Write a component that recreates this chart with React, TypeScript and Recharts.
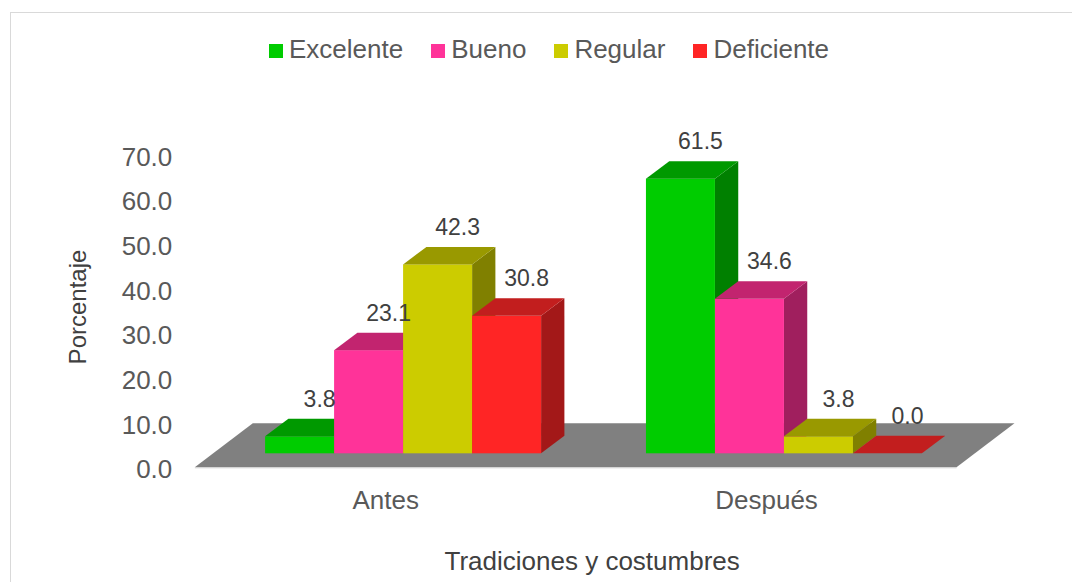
import React from 'react';
import { BarChart, Bar, XAxis, YAxis, Legend, LabelList, Customized, Label } from 'recharts';

// ---- data ----
const categories = ['Antes', 'Después'];
const seriesNames = ['Excelente', 'Bueno', 'Regular', 'Deficiente'];
const excelente = [3.8, 61.5];
const bueno = [23.1, 34.6];
const regular = [42.3, 3.8];
const deficiente = [30.8, 0.0];
const yTicks = [0, 10, 20, 30, 40, 50, 60, 70];
const xAxisTitle = 'Tradiciones y costumbres';
const yAxisTitle = 'Porcentaje';

const data = categories.map((c, i) => ({
  category: c,
  Excelente: excelente[i],
  Bueno: bueno[i],
  Regular: regular[i],
  Deficiente: deficiente[i],
}));

// ---- styles ----
const FONT = '"Liberation Sans", Arial, Helvetica, sans-serif';
const TEXT = '#595959';
const LABEL_TEXT = '#404040';
const COLORS: Record<string, { front: string; top: string; side: string }> = {
  Excelente: { front: '#00CC00', top: '#009900', side: '#008000' },
  Bueno: { front: '#FF3399', top: '#C2246F', side: '#A01F5E' },
  Regular: { front: '#CCCC00', top: '#999900', side: '#808000' },
  Deficiente: { front: '#FF2525', top: '#C21E1E', side: '#A31818' },
};

const W = 1072;
const H = 582;
const PLOT = { left: 213.3, right: 975, top: 140.7, bottom: 453.3 };
const DX = 23.3; // bar depth offset x
const DY = 17.5; // bar depth offset y

const Bar3D = (props: any) => {
  const { x, y, width, height, colors } = props;
  if (x == null || y == null || width == null) return null;
  const h = Math.max(0, height || 0);
  const top = `${x},${y} ${x + DX},${y - DY} ${x + width + DX},${y - DY} ${x + width},${y}`;
  const side = `${x + width},${y} ${x + width + DX},${y - DY} ${x + width + DX},${y + h - DY} ${x + width},${y + h}`;
  return (
    <g>
      {h > 0 && <polygon points={side} fill={colors.side} />}
      {h > 0 && <rect x={x} y={y} width={width} height={h} fill={colors.front} />}
      <polygon points={top} fill={colors.top} />
    </g>
  );
};

const Floor = () => {
  const fx = 18.5, fy = 14, bx = 58, by = 44;
  const pts = [
    [PLOT.left - fx, PLOT.bottom + fy],
    [PLOT.right - fx, PLOT.bottom + fy],
    [PLOT.right - fx + bx, PLOT.bottom + fy - by],
    [PLOT.left - fx + bx, PLOT.bottom + fy - by],
  ]
    .map((p) => p.join(','))
    .join(' ');
  return (
    <g>
      <polygon points={pts} fill="#808080" />
      <line
        x1={PLOT.left - fx}
        y1={PLOT.bottom + fy + 0.5}
        x2={PLOT.right - fx}
        y2={PLOT.bottom + fy + 0.5}
        stroke="#d0d0d0"
        strokeWidth={1}
      />
    </g>
  );
};

const YTick = (props: any) => {
  const { x, y, payload } = props;
  return (
    <text
      x={x - 41}
      y={y + 16}
      textAnchor="end"
      dominantBaseline="central"
      fontFamily={FONT}
      fontSize={26}
      fill={TEXT}
    >
      {Number(payload.value).toFixed(1)}
    </text>
  );
};

const XTick = (props: any) => {
  const { x, y, payload } = props;
  return (
    <text
      x={x - 18}
      y={y + 47}
      textAnchor="middle"
      dominantBaseline="central"
      fontFamily={FONT}
      fontSize={26}
      fill={TEXT}
    >
      {payload.value}
    </text>
  );
};

const ValueLabel = (props: any) => {
  const { x, y, width, value } = props;
  if (x == null || y == null) return null;
  return (
    <text
      x={x + width / 2 + 20}
      y={y - 37.5}
      textAnchor="middle"
      dominantBaseline="central"
      fontFamily={FONT}
      fontSize={23}
      fill={LABEL_TEXT}
    >
      {Number(value).toFixed(1)}
    </text>
  );
};

const LegendContent = () => (
  <div style={{ display: 'flex', paddingLeft: 269, fontFamily: FONT, alignItems: 'center' }}>
    {seriesNames.map((n) => (
      <div key={n} style={{ display: 'flex', alignItems: 'center', marginRight: 28 }}>
        <span
          style={{
            display: 'inline-block',
            width: 14,
            height: 14,
            background: COLORS[n].front,
            marginRight: 6,
            marginTop: 2,
          }}
        />
        <span style={{ fontSize: 26, color: TEXT, lineHeight: 'normal' }}>{n}</span>
      </div>
    ))}
  </div>
);

export default function App() {
  return (
    <div style={{ position: 'absolute', left: 0, top: 0, width: W, height: H, background: '#fff', overflow: 'hidden' }}>
      <div
        style={{
          position: 'absolute',
          left: 10,
          top: 12,
          width: 1100,
          height: 600,
          border: '1px solid #d9d9d9',
          boxSizing: 'border-box',
        }}
      />
      <div style={{ position: 'absolute', left: 0, top: 0 }}>
        <BarChart
          width={W}
          height={H}
          data={data}
          margin={{ top: PLOT.top, right: W - PLOT.right, bottom: 0, left: 0 }}
          barCategoryGap="13.6%"
          barGap={0}
        >
          <Customized component={Floor} />
          <XAxis
            dataKey="category"
            height={H - PLOT.bottom}
            tickLine={false}
            axisLine={false}
            tickSize={0}
            tickMargin={0}
            tick={<XTick />}
            interval={0}
          >
            <Label
              content={(p: any) => {
                const vb = p.viewBox;
                return (
                  <text
                    x={vb.x + vb.width / 2 - 2}
                    y={570}
                    textAnchor="middle"
                    fontFamily={FONT}
                    fontSize={26}
                    fill={LABEL_TEXT}
                  >
                    {xAxisTitle}
                  </text>
                );
              }}
            />
          </XAxis>
          <YAxis
            width={PLOT.left}
            domain={[0, 70]}
            ticks={yTicks}
            tickLine={false}
            axisLine={false}
            tickSize={0}
            tickMargin={0}
            tick={<YTick />}
            interval={0}
          >
            <Label
              content={(p: any) => {
                const vb = p.viewBox;
                const cy = vb.y + vb.height / 2 + 10;
                return (
                  <text
                    x={77.5}
                    y={cy}
                    transform={`rotate(-90, 77.5, ${cy})`}
                    textAnchor="middle"
                    dominantBaseline="central"
                    fontFamily={FONT}
                    fontSize={24}
                    fill={LABEL_TEXT}
                  >
                    {yAxisTitle}
                  </text>
                );
              }}
            />
          </YAxis>
          <Legend
            verticalAlign="middle"
            align="center"
            layout="horizontal"
            content={<LegendContent />}
            wrapperStyle={{ top: 34, left: 0, width: W }}
          />
          {seriesNames.map((n) => (
            <Bar
              key={n}
              dataKey={n}
              fill={COLORS[n].front}
              isAnimationActive={false}
              shape={(p: any) => <Bar3D {...p} colors={COLORS[n]} />}
              activeBar={false}
            >
              <LabelList dataKey={n} content={<ValueLabel />} />
            </Bar>
          ))}
        </BarChart>
      </div>
    </div>
  );
}
